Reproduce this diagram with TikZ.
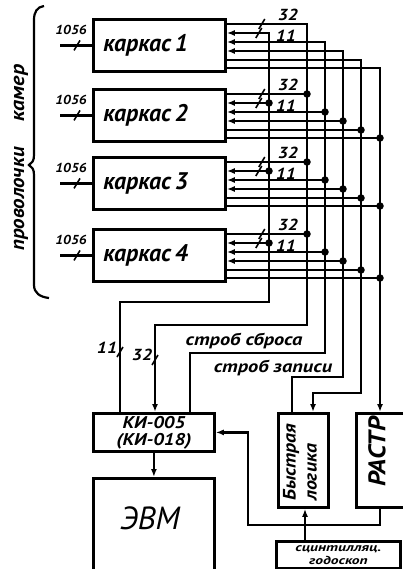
\documentclass[tikz,border=0pt]{standalone}
\usepackage{fontspec}
\setmainfont{PT Sans}
\usetikzlibrary{arrows.meta,calc}
\newcommand\fs[1]{\fontsize{#1}{#1}\selectfont}
\newcommand\fsl[2]{\fontsize{#1}{#2}\selectfont}
\newcommand\sx[2]{\scalebox{#1}[1]{#2}}
\begin{document}
\begin{tikzpicture}[x=1pt,y=-1pt,
  box/.style={draw,line width=2.8pt,inner sep=0pt},
  wire/.style={line width=2.4pt},
  dot/.style={circle,fill,inner sep=0pt,minimum size=7.5pt},
  lab/.style={font=\itshape\bfseries\fs{16},inner sep=0pt},
  hand/.style={font=\itshape\bfseries\fs{#1},inner sep=0pt},
  tip/.style={-{Latex[length=8pt,width=6pt]}},
  rtip/.style={{Latex[length=8pt,width=6pt]}-},
  noarr/.style={},
  tk/.style={line width=1.6pt},
]
\useasboundingbox (0,0) rectangle (403,569);
\clip (0,0) rectangle (403,569);

% brace and side text
\draw[line width=2.2pt] (44,6) .. controls (37,7) and (34,12) .. (34,20) -- (34,155)
  .. controls (34,161) and (32,163) .. (29,165) .. controls (32,167) and (34,169) .. (34,175)
  -- (34,285) .. controls (34,293) and (40,297) .. (49,298);
\node[hand=20,rotate=90] (pk1) at (21,199) {\sx{1.05}{проволочки}};
\node[hand=20,rotate=90] (pk2) at (21,93) {\sx{1.1}{камер}};

% frames
\foreach \i/\t in {1/18,2/88,3/156,4/228}{
  \node[box,anchor=north west,minimum width=131pt,minimum height=52pt,
        text width=112pt,align=left,inner xsep=10pt,font=\itshape\bfseries\fs{24}] (k\i) at (92,\t) {каркас\,\i};
  \coordinate (in\i) at ($(k\i.west)+(-32,0)$);
  \draw[wire] (in\i) -- (k\i.west);
  \draw[tk] ($(k\i.west)+(-18,5)$) -- ++(6,-10);
  \node[lab,font=\itshape\bfseries\fs{13}] (n\i) at ($(k\i.west)+(-21,-15)$) {\sx{1.1}{1056}};
  \draw[tk] ([xshift=32pt,yshift=-11pt]k\i.north east) -- ++(6,-10);
  \draw[tk] ([xshift=29pt,yshift=-20pt]k\i.north east) -- ++(6,-10);
  \node[lab] (l32\i) at ([xshift=61pt,yshift=3pt]k\i.north east) {\sx{1.15}{32}};
  \node[lab] (l11\i) at ([xshift=59pt,yshift=-18pt]k\i.north east) {\sx{1.15}{11}};
}

% bottom blocks
\node[box,anchor=north west,minimum width=121pt,minimum height=38pt,align=center,
      font=\itshape\bfseries\fsl{17}{17}] (ki) at (92,412) {\sx{1.15}{КИ-005}\\\sx{1.15}{(КИ-018)}};
\node[box,anchor=north west,minimum width=121pt,minimum height=110pt] (evm) at (92,477) {};
\node[font=\itshape\fs{32},inner sep=0pt] (evmt) at (150,518) {ЭВМ};
\node[box,anchor=north west,minimum width=50pt,minimum height=94pt] (bl) at (277,412) {};
\node[rotate=90,anchor=west,align=left,inner sep=0pt,font=\itshape\bfseries\fsl{18}{21}] (blt) at (300,501) {\sx{1.1}{Быстрая}\\\sx{1.1}{логика}};
\node[box,anchor=north west,minimum width=70pt,minimum height=94pt] (rs) at (355,412) {};
\node[hand=24,rotate=90] (rst) at (377,452) {\sx{1.1}{РАСТР}};
\node[box,anchor=north west,minimum width=124pt,minimum height=27pt,align=center,
      font=\itshape\bfseries\fsl{11.5}{13}] (god) at (275,540) {\sx{1.35}{сцинтилляц.}\\\sx{1.35}{годоскоп}};

% bus corners
\coordinate (b11) at (269,302); \coordinate (e11) at (120,302);
\coordinate (b32) at (307,325); \coordinate (e32) at (155,325);
\coordinate (bsb) at (325,353); \coordinate (esb) at (190,353);
\coordinate (bzp) at (343,377); \coordinate (ezp) at (292,377);
\coordinate (bbl) at (361,393); \coordinate (ebl) at (313,393);
\coordinate (brs) at (380,393);

\draw[wire,tip]  ([yshift=-6pt]k1.north east)  -| (b32) -- (e32) -- (e32 |- ki.north);
\draw[wire,rtip] ([yshift=-15pt]k1.north east) -| (b11) -- (e11) -- (e11 |- ki.north);
\draw[wire,rtip] ([yshift=-24pt]k1.north east) -| (bsb) -- (esb) -- (esb |- ki.north);
\draw[wire,rtip] ([yshift=-33pt]k1.north east) -| (bzp) -- (ezp) -- (ezp |- bl.north);
\draw[wire,tip]  ([yshift=-42pt]k1.north east) -| (bbl) -- (ebl) -- (ebl |- bl.north);
\draw[wire,tip]  ([yshift=-50pt]k1.north east) -| (rs.north -| brs);

\foreach \i in {2,3,4}{
  \foreach \o/\b/\s in {6/b32/noarr,15/b11/rtip,24/bsb/rtip,33/bzp/rtip,42/bbl/noarr,50/brs/noarr}{
    \draw[wire,\s] ([yshift=-\o pt]k\i.north east) coordinate (p) -- (p -| \b) node[dot]{};
  }
}

% labels of lower bus
\node[lab] (b11l) at (107,348) {\sx{1.15}{11}};
\draw[tk] ($(e11)+(-3,55)$) -- ++(6,-10);
\node[lab] (b32l) at (142,355) {\sx{1.15}{32}};
\draw[tk] ($(e32)+(-3,40)$) -- ++(6,-10);
\node[hand=17] (tsb) at (244,341) {\sx{1.2}{строб сброса}};
\node[hand=17] (tzp) at (273,368) {\sx{1.2}{строб записи}};

% lower connections
\draw[wire,tip] (ki.south) -- (evm.north);
\coordinate (gx) at (305,525);
\draw[wire,tip] (god.north -| gx) -- (bl.south -| gx);
\coordinate (ra) at (380,525); \coordinate (rb) at (248,525);
\draw[wire,tip] (rs.south -| ra) -- (ra) -- (rb) -- (rb |- ki.east) -- (ki.east);
\end{tikzpicture}
\end{document}
